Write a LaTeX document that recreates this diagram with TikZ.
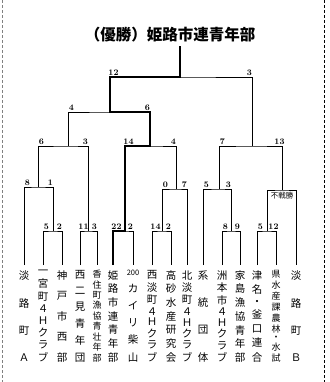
\documentclass[tikz,border=0pt]{standalone}
\usepackage{fontspec}
\newfontfamily\jp{Noto Sans CJK JP}
\usetikzlibrary{positioning}

% team name set top to bottom, spread over a fixed height
\newcommand{\vlabel}[2][10.5pt]{%
  \parbox[t][91pt][s]{16pt}{\offinterlineskip\fontsize{#1}{#1}\selectfont\jp
    \foreach \c [count=\i] in {#2} {\ifnum\i>1 \vfill\fi\hbox to 16pt{\hss\c\hss}}}}

\begin{document}
\begin{tikzpicture}[x=1pt,y=-1pt,line width=0.8pt,
    team/.style={inner sep=0pt},
    score/.style={inner sep=0.5pt,anchor=south,font=\fontsize{8.5}{8.5}\selectfont\bfseries},
    win/.style={line width=2.6pt}]
  \useasboundingbox (0,0) rectangle (329,382);
  % page edges
  \draw[gray,line width=0.6pt,dash pattern=on 3pt off 2pt] (2,0) -- (2,382);
  \draw[line width=0.6pt,dash pattern=on 3pt off 2pt] (324,0) -- (324,382);
  % lower ends of the team lines
  \foreach \x [count=\i] in {24,43,62,80,97,113,133,152,171,187,203,222,240,257,276,296}
    \coordinate (b\i) at (\x,265);
  % match points
  \coordinate (m1) at (53,231);
  \coordinate (m3) at (88,231);
  \coordinate (m5) at (125,231);
  \coordinate (m6) at (162,231);
  \coordinate (m10) at (231,231);
  \coordinate (m12) at (267,231);
  \coordinate (m2) at (38,187);
  \coordinate (m7) at (176,189);
  \coordinate (m11) at (219,189);
  \coordinate (m13) at (282,190);
  \coordinate (m4) at (68,146);
  \coordinate (m8) at (150,146);
  \coordinate (m14) at (252,146);
  \coordinate (m9) at (110,112);
  \coordinate (m15) at (180,77);

  \node[font=\jp\bfseries\fontsize{15.5}{15.5}\selectfont,inner sep=0pt,outer sep=4pt] (champ) at (170,35) {（優勝）姫路市連青年部};

  \node[team,below=5pt of b1] (t1) {\vlabel{淡,路,町,Ａ}};
  \node[team,below=5pt of b2] (t2) {\vlabel{一,宮,町,４,Ｈ,ク,ラ,ブ}};
  \node[team,below=5pt of b3] (t3) {\vlabel{神,戸,市,西,部}};
  \node[team,below=5pt of b4] (t4) {\vlabel{西,二,見,青,年,団}};
  \node[team,below=5pt of b5] (t5) {\vlabel[9pt]{香,住,町,漁,協,青,壮,年,部}};
  \node[team,below=5pt of b6] (t6) {\vlabel{姫,路,市,連,青,年,部}};
  \node[team,below=5pt of b7] (t7) {\vlabel{{\fontsize{7.5}{7.5}\selectfont 200},カ,イ,リ,柴,山}};
  \node[team,below=5pt of b8] (t8) {\vlabel{西,淡,町,４,Ｈ,ク,ラ,ブ}};
  \node[team,below=5pt of b9] (t9) {\vlabel{高,砂,水,産,研,究,会}};
  \node[team,below=5pt of b10] (t10) {\vlabel{北,淡,町,４,Ｈ,ク,ラ,ブ}};
  \node[team,below=5pt of b11] (t11) {\vlabel{系,統,団,体}};
  \node[team,below=5pt of b12] (t12) {\vlabel{洲,本,市,４,Ｈ,ク,ラ,ブ}};
  \node[team,below=5pt of b13] (t13) {\vlabel{家,島,漁,協,青,年,部}};
  \node[team,below=5pt of b14] (t14) {\vlabel{津,名,・,釜,口,連,合}};
  \node[team,below=5pt of b15] (t15) {\vlabel[9pt]{県,水,産,課,農,林,・,水,試}};
  \node[team,below=5pt of b16] (t16) {\vlabel{淡,路,町,Ｂ}};

  % bracket
  \draw (b2) |- (m1) -| (b3);
  \draw (b4) |- (m3) -| (b5);
  \draw (b6) |- (m5) -| (b7);
  \draw (b8) |- (m6) -| (b9);
  \draw (b12) |- (m10) -| (b13);
  \draw (b14) |- (m12) -| (b15);
  \draw (b1) |- (m2) -| (m1);
  \draw (m6) |- (m7) -| (b10);
  \draw (b11) |- (m11) -| (m10);
  \draw (m12) |- (m13) -| (b16);
  \draw (m2) |- (m4) -| (m3);
  \draw (m5) |- (m8) -| (m7);
  \draw (m11) |- (m14) -| (m13);
  \draw (m4) |- (m9) -| (m8);
  \draw (m9) |- (m15) -| (m14);
  % winner
  \draw[win] (b6) |- (m5) |- (m8) |- (m9) |- (m15) -- (m15 |- champ.south);

  % scores
  \foreach \p/\q/\s [count=\i] in {m9/m15/12,m4/m9/4,m2/m4/6,m5/m8/14,m11/m14/7,b1/m2/8,m6/m7/0,
      b11/m11/5,b2/m1/5,b4/m3/11,b6/m5/22,b8/m6/14,b12/m10/8,b14/m12/5}
    \node[score] (sl\i) at ([xshift=3.5pt,yshift=0.4pt]\p |- \q) {\s};
  \foreach \p/\q/\s [count=\i] in {m14/m15/3,m8/m9/6,m3/m4/3,m7/m8/4,m13/m14/13,m1/m2/1,b10/m7/7,
      m10/m11/3,b3/m1/2,b5/m3/3,b7/m5/2,b9/m6/2,b13/m10/9,b15/m12/12}
    \node[score] (sr\i) at ([xshift=-2.5pt,yshift=0.4pt]\p |- \q) {\s};
  \node[font=\jp\fontsize{7.5}{7.5}\selectfont,inner sep=0pt,below=2pt of m13] (bye) {不戦勝};
\end{tikzpicture}
\end{document}
